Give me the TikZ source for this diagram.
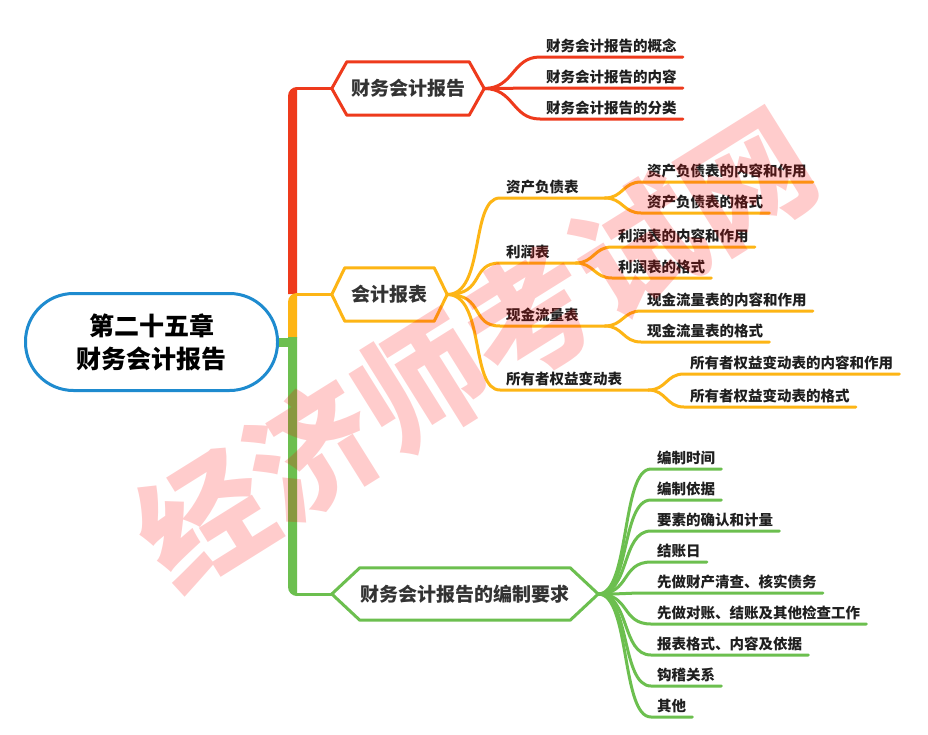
\documentclass[tikz,border=0pt]{standalone}
\usepackage{fontspec}
\setmainfont{Noto Sans CJK SC}
\definecolor{mapred}{HTML}{EE3A1C}
\definecolor{maporange}{HTML}{FDB515}
\definecolor{mapgreen}{HTML}{6CBF4F}
\definecolor{mapblue}{HTML}{1E8BCF}
\definecolor{ink}{HTML}{1F1F1F}
\definecolor{hexink}{HTML}{333333}
\tikzset{
  every picture/.style={line join=round, line cap=round},
  root/.style={draw=mapblue, line width=3pt, fill=white, rounded corners=48pt,
    minimum width=252pt, minimum height=97pt, align=center, text=black,
    font=\fontsize{25}{33}\selectfont\bfseries},
  hexbox/.style={minimum height=53pt, inner sep=0pt, text=hexink,
    font=\fontsize{19}{22}\selectfont\bfseries},
  leaf/.style={anchor=south west, inner xsep=6pt, inner ysep=4pt, text=ink,
    font=\fontsize{14.5}{17}\selectfont\bfseries},
  twig/.style={line width=3pt},
}
% hexagon frame round a named node: node, slant, colour
\newcommand\hexring[3]{%
  \draw[#3, line width=3pt] (#1.west) -- ([xshift=#2]#1.north west)
    -- ([xshift=-#2]#1.north east) -- (#1.east)
    -- ([xshift=-#2]#1.south east) -- ([xshift=#2]#1.south west) -- cycle;}
\begin{document}
\begin{tikzpicture}[x=1pt,y=-1pt]
\fill[white] (0,0) rectangle (928,734);
\useasboundingbox (0,0) rectangle (928,734);

% centre and main topics
\node[root] (root) at (151.5,342) {第二十五章\\财务会计报告};
\node[hexbox,minimum width=152pt] (hr) at (408,88.5) {财务会计报告};
\node[hexbox,minimum width=115pt] (ho) at (389.5,294.5) {会计报表};
\node[hexbox,minimum width=266pt,minimum height=52pt] (hg) at (465,594) {财务会计报告的编制要求};
\hexring{hr}{15pt}{mapred}
\hexring{ho}{13pt}{maporange}
\hexring{hg}{28pt}{mapgreen}

% spine
\fill[mapred] (288,294) -- (288,96) arc[start angle=180,end angle=90,radius=9pt] -- (297,294) -- cycle;
\fill[maporange] (288,338) -- (288,302) arc[start angle=180,end angle=90,radius=9pt] -- (297,338) -- cycle;
\fill[mapgreen] (288,337) -- (288,587) arc[start angle=180,end angle=270,radius=9pt] -- (297,337) -- cycle;
\coordinate (sm) at (292.5,342);
\coordinate (sr) at (296,88.5);
\coordinate (so) at (296,294.5);
\coordinate (sg) at (296,594);
\draw[mapgreen,line width=9pt,line cap=butt] (root.east) -- (sm);
\draw[mapred,twig] (sr) -- (hr.west);
\draw[maporange,twig] (so) -- (ho.west);
\draw[mapgreen,twig] (sg) -- (hg.west);

% red branch
\foreach \txt [count=\i] in {概念,内容,分类}
  \node[leaf] (r\i) at (540,26+31*\i) {财务会计报告的\txt};
\foreach \i in {1,2,3}
  \draw[mapred,twig] (hr.east) .. controls +(30,0) and +(-28,0) .. (r\i.south west) -- (r\i.south east);

% orange branch
\node[leaf] (o1) at (500,198) {资产负债表};
\node[leaf] (o2) at (500,263) {利润表};
\node[leaf] (o3) at (500,326) {现金流量表};
\node[leaf] (o4) at (500,390) {所有者权益变动表};
\foreach \i in {1,...,4}
  \draw[maporange,twig] (ho.east) .. controls +(38,0) and +(-30,0) .. (o\i.south west)
    -- ([xshift=20pt]o\i.south east) coordinate (f\i);
\node[leaf] (o11) at (641,182) {资产负债表的内容和作用};
\node[leaf] (o12) at (641,213) {资产负债表的格式};
\node[leaf] (o21) at (612,247) {利润表的内容和作用};
\node[leaf] (o22) at (612,278) {利润表的格式};
\node[leaf] (o31) at (641,311) {现金流量表的内容和作用};
\node[leaf] (o32) at (641,342) {现金流量表的格式};
\node[leaf] (o41) at (684,374) {所有者权益变动表的内容和作用};
\node[leaf] (o42) at (684,407) {所有者权益变动表的格式};
\foreach \i in {1,...,4}
  \foreach \j in {1,2}
    \draw[maporange,twig] (f\i) .. controls +(18,0) and +(-18,0) .. (o\i\j.south west) -- (o\i\j.south east);

% green branch
\foreach \txt [count=\i] in {编制时间,编制依据,要素的确认和计量,结账日,先做财产清查、核实债务,
    先做对账、结账及其他检查工作,报表格式、内容及依据,钩稽关系,其他}
  \node[leaf] (g\i) at (651,438+31*\i) {\txt};
\foreach \i in {1,...,9}
  \draw[mapgreen,twig] (hg.east) .. controls +(32,0) and +(-30,0) .. (g\i.south west) -- (g\i.south east);

% watermark
\node[red,opacity=0.2,rotate=32,font=\fontsize{128}{128}\selectfont\bfseries] (mark) at (475,349) {经济师考试网};
\end{tikzpicture}
\end{document}
